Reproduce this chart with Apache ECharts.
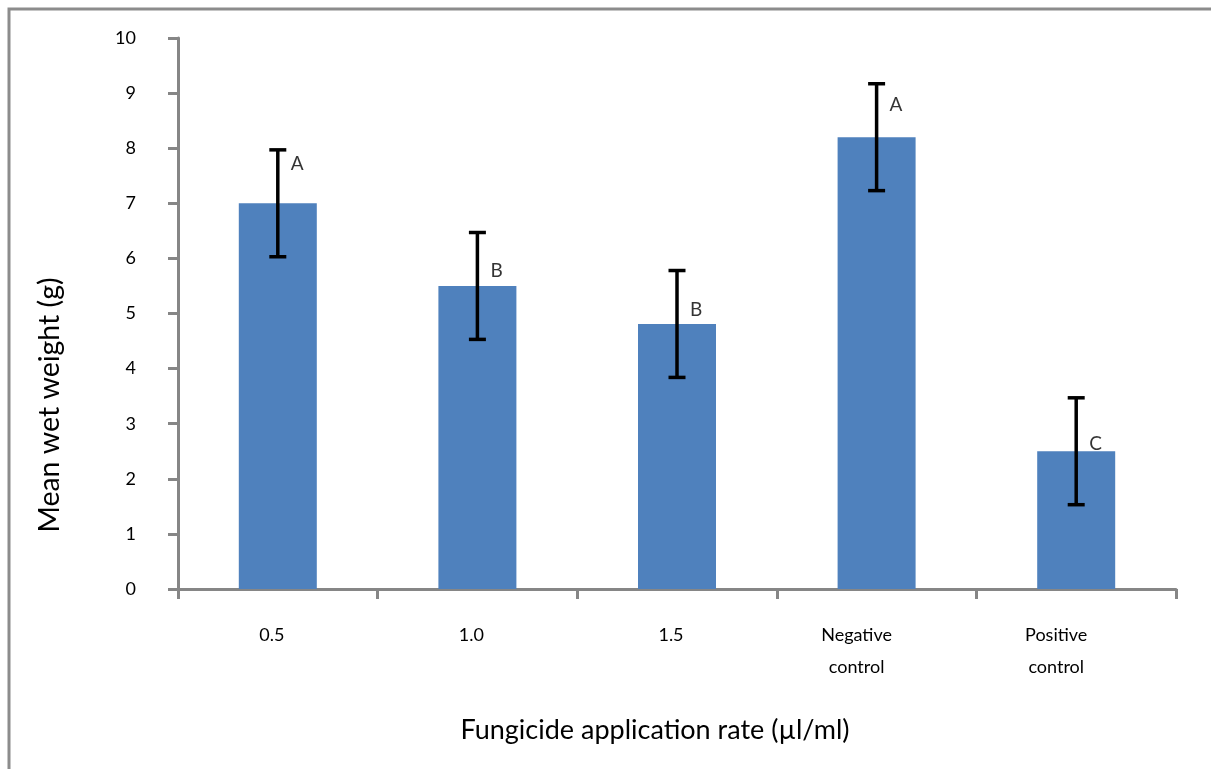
<!DOCTYPE html>
<html><head><meta charset="utf-8">
<script src="https://cdn.jsdelivr.net/npm/echarts@6/dist/echarts.min.js"></script>
<style>html,body{margin:0;padding:0;background:#fff}#c{width:1211px;height:769px}</style>
</head><body><div id="c"></div>
<script>
const categories = ['0.5', '1.0', '1.5', 'Negative\ncontrol', 'Positive\ncontrol'];
const meanWeight = [7.0, 5.5, 4.81, 8.2, 2.5];
const errorSize = [0.97, 0.97, 0.97, 0.97, 0.97];
const groupLetters = ['A', 'B', 'B', 'A', 'C'];
const letterLevel = [7.71, 5.78, 5.06, 8.78, 2.64];
const yTitle = 'Mean wet weight (g)';
const xTitle = 'Fungicide application rate (\u00b5l/ml)';

const FONT = 'Lato, "Open Sans", sans-serif';
const AXIS_COLOR = '#868686';

const chart = echarts.init(document.getElementById('c'), null, {renderer: 'canvas'});

const errorData = meanWeight.map((v, i) => [i, v - errorSize[i], v + errorSize[i]]);
const letterData = letterLevel.map((v, i) => ({value: [i, v], label: {formatter: groupLetters[i]}}));

chart.setOption({
  animation: false,
  backgroundColor: '#fff',
  grid: {left: 178, right: 35, top: 38, bottom: 180, containLabel: false},
  xAxis: {
    type: 'category',
    data: categories,
    boundaryGap: true,
    axisLine: {lineStyle: {color: AXIS_COLOR, width: 3}},
    axisTick: {show: true, length: 10, lineStyle: {color: AXIS_COLOR, width: 3}},
    axisLabel: {
      margin: 30,
      color: '#000',
      fontFamily: FONT,
      fontSize: 18,
      lineHeight: 32,
      formatter: function (v) {
        if (v.indexOf('\n') >= 0) {
          return v.split('\n').map(s => '{two|' + s + '}').join('\n');
        }
        return '{one|' + v + '}';
      },
      rich: {
        one: {fontFamily: FONT, fontSize: 18, lineHeight: 32, color: '#000', padding: [0, 12, 0, 0]},
        two: {fontFamily: FONT, fontSize: 18, lineHeight: 32, color: '#000', padding: [0, 40, 0, 0]}
      }
    },
    splitLine: {show: false}
  },
  yAxis: {
    type: 'value',
    min: 0,
    max: 10,
    interval: 1,
    axisLine: {show: true, lineStyle: {color: AXIS_COLOR, width: 3}},
    axisTick: {show: true, length: 10, lineStyle: {color: AXIS_COLOR, width: 3}},
    axisLabel: {margin: 42, color: '#000', fontFamily: FONT, fontSize: 18},
    splitLine: {show: false}
  },
  series: [
    {
      type: 'bar',
      data: meanWeight,
      barWidth: 78,
      itemStyle: {color: '#4f81bd'},
      z: 2
    },
    {
      type: 'custom',
      data: errorData,
      z: 5,
      renderItem: function (params, api) {
        const i = api.value(0);
        const lo = api.coord([i, api.value(1)]);
        const hi = api.coord([i, api.value(2)]);
        const half = 8.5;
        const style = {stroke: '#000', lineWidth: 3.5};
        return {
          type: 'group',
          children: [
            {type: 'line', shape: {x1: hi[0], y1: hi[1], x2: lo[0], y2: lo[1]}, style: style},
            {type: 'line', shape: {x1: hi[0] - half, y1: hi[1], x2: hi[0] + half, y2: hi[1]}, style: style},
            {type: 'line', shape: {x1: lo[0] - half, y1: lo[1], x2: lo[0] + half, y2: lo[1]}, style: style}
          ]
        };
      }
    },
    {
      type: 'scatter',
      data: letterData,
      symbolSize: 0,
      itemStyle: {color: 'transparent'},
      z: 6,
      label: {show: true, position: 'right', distance: 13, color: '#000', fontFamily: FONT, fontSize: 19}
    }
  ],
  graphic: [
    {type: 'rect', shape: {x: 9, y: 9, width: 1400, height: 1000}, style: {fill: 'none', stroke: '#8c8c8c', lineWidth: 3}, silent: true},
    {type: 'text', x: 655, y: 730, style: {text: xTitle, fontFamily: FONT, fontSize: 27, fill: '#000', textAlign: 'center', textVerticalAlign: 'middle'}},
    {type: 'text', x: 50, y: 405, rotation: Math.PI / 2, style: {text: yTitle, fontFamily: FONT, fontSize: 28.5, fill: '#000', textAlign: 'center', textVerticalAlign: 'middle'}}
  ]
});
</script>
</body></html>
